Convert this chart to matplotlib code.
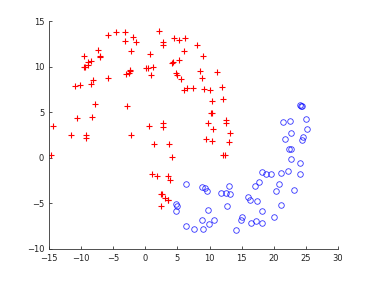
import numpy as np
import matplotlib
matplotlib.use('Agg')
import matplotlib.pyplot as plt

# red "+" class
red_x = [-14.3, -14.7, -11.5, -10.6, -10.9, -10.1, -9.3, -9.25, -9.5, -9.55, -9.4, -9.0, -8.9, -8.4,
         -8.5, -8.1, -8.3, -7.85, -7.4, -7.1, -7.1, -5.8, -5.8, -4.5, -3.1, -3.1, -3.0, -2.6, -2.45,
         -2.4, -2.9, -2.25, -2.2, -2.0, -1.5, 0.1, 0.45, 0.65, 0.9, 1.2, 0.55, 2.15, 2.8, 2.8, 2.7,
         2.7, 1.4, 3.7, 4.1, 1.1, 1.85, 3.45, 3.8, 2.45, 2.6, 3.0, 3.45, 3.55, 2.45, 4.45, 5.2, 6.2,
         4.2, 4.35, 5.2, 6.0, 5.0, 5.6, 4.7, 6.05, 6.55, 7.45, 8.0, 8.95, 8.5, 8.8, 9.1, 10.1, 11.1,
         12.0, 12.05, 10.4, 10.25, 10.45, 9.7, 10.5, 9.4, 10.35, 12.5, 12.6, 13.2, 13.05, 12.05, 12.4]
red_y = [3.5, 0.3, 2.45, 4.4, 7.85, 8.0, 2.5, 2.2, 11.2, 9.95, 10.0, 10.2, 10.5, 10.6,
         8.05, 8.5, 4.5, 5.85, 11.8, 11.2, 11.0, 13.5, 8.8, 13.75, 13.75, 12.8, 9.2, 9.3, 9.5,
         9.6, 5.7, 11.7, 2.45, 13.2, 12.7, 9.85, 9.85, 11.35, 9.05, 9.95, 3.47, 13.9, 12.7, 12.4, 3.75,
         3.35, 1.55, 1.5, 0.1, -1.85, -2.0, -2.0, -2.5, -3.95, -4.0, -4.4, -4.65, -4.6, -5.3, 13.1, 12.95, 13.1,
         10.4, 10.5, 10.7, 11.75, 9.05, 8.65, 9.25, 7.4, 7.7, 7.7, 12.4, 11.2, 9.55, 8.8, 7.55, 7.4, 9.45,
         7.8, 6.45, 6.25, 4.95, 4.9, 3.8, 3.15, 2.0, 1.85, 4.1, 3.75, 2.7, 1.75, 0.25, 0.3]

# blue "o" class
blue_x = [6.25, 4.8, 4.85, 4.7, 6.25, 7.5, 8.95, 8.85, 8.75, 9.25, 9.55, 9.7, 9.95, 10.65, 11.85,
          12.5, 13.0, 13.25, 12.7, 14.15, 15.0, 14.95, 16.05, 16.25, 16.5, 17.2, 17.1, 17.65, 17.35,
          18.1, 18.75, 19.5, 18.1, 18.2, 20.1, 20.4, 20.85, 21.15, 21.05, 22.2, 23.2, 21.4, 22.5, 21.8,
          22.6, 22.4, 22.6, 22.6, 24.1, 24.05, 24.05, 24.25, 24.35, 25.05, 25.2, 24.6, 24.45]
blue_y = [-2.85, -5.1, -5.35, -5.85, -7.55, -7.85, -7.8, -6.85, -3.2, -3.3, -3.65, -5.75, -7.25, -6.8, -3.9,
          -3.9, -3.15, -4.0, -5.35, -7.95, -6.5, -6.85, -4.35, -4.6, -7.2, -7.0, -3.1, -2.7, -4.75,
          -1.6, -1.8, -1.75, -5.85, -7.2, -6.5, -3.65, -2.85, -1.7, -5.25, -1.5, -3.5, 3.9, 4.05, 2.1,
          2.75, 0.95, 0.95, -0.15, -0.55, -1.85, 5.75, 5.65, 5.65, 4.2, 3.2, 2.25, 1.9]

fig = plt.figure(figsize=(3.74, 2.81), dpi=100)
ax = fig.add_axes([0.131, 0.115, 0.773, 0.81])

ax.plot(red_x, red_y, '+', color='r', markersize=4, markeredgewidth=0.8)
ax.plot(blue_x, blue_y, 'o', color='b', markerfacecolor='none', markersize=4, markeredgewidth=0.6, alpha=0.8)

ax.set_xlim(-15, 30)
ax.set_ylim(-10, 15)
ax.set_xticks(np.arange(-15, 31, 5))
ax.set_yticks(np.arange(-10, 16, 5))
ax.spines['top'].set_visible(False)
ax.spines['right'].set_visible(False)
ax.spines['left'].set_color('#333333')
ax.spines['bottom'].set_color('#333333')
ax.spines['left'].set_linewidth(0.6)
ax.spines['bottom'].set_linewidth(0.6)
ax.tick_params(direction='in', length=2.5, width=0.6, labelsize=6, colors='#333333', labelcolor='#222222',
               top=False, right=False)

fig.savefig('out.png', dpi=100)
